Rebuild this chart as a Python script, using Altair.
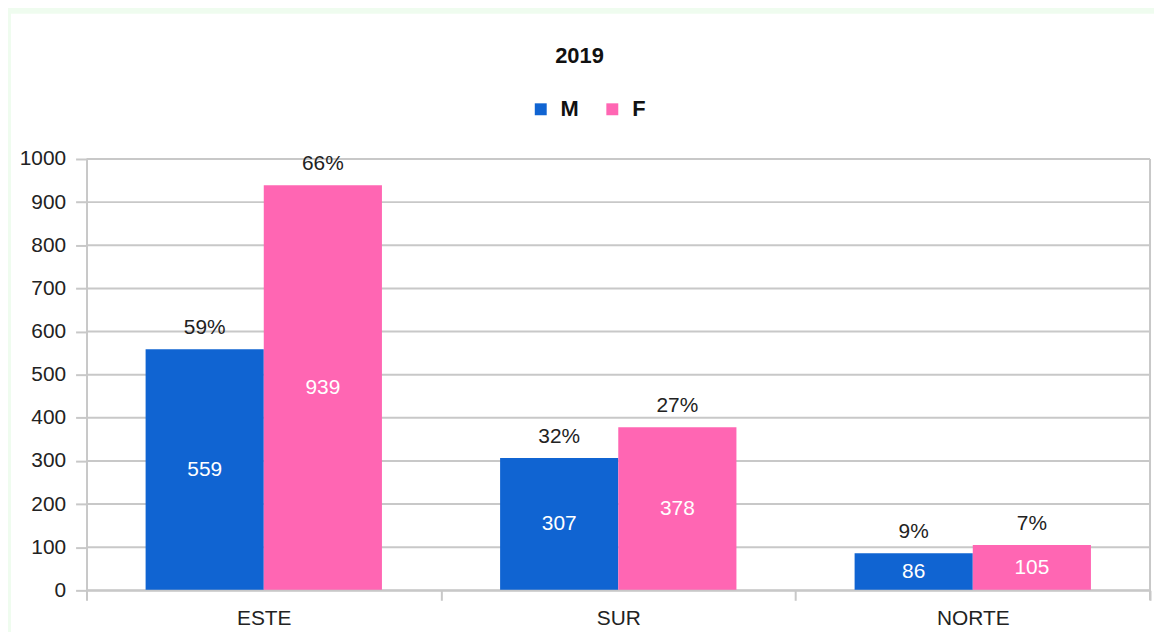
import altair as alt
import pandas as pd

regions = ["ESTE", "SUR", "NORTE"]
sexes = ["M", "F"]
m_vals = [559, 307, 86]
f_vals = [939, 378, 105]
m_pct = ["59%", "32%", "9%"]
f_pct = ["66%", "27%", "7%"]
colors = ["#1064d2", "#ff66b3"]
y_ticks = list(range(0, 1001, 100))

rows = []
for i, r in enumerate(regions):
    rows.append({"region": r, "sexo": "M", "value": m_vals[i], "pct": m_pct[i]})
    rows.append({"region": r, "sexo": "F", "value": f_vals[i], "pct": f_pct[i]})
df = pd.DataFrame(rows)
grid_df = pd.DataFrame({"tick": y_ticks})

FONT = "Liberation Sans"
W, H = 1070, 434
LINE = "#c8c8c8"

x_enc = alt.X("region:N", sort=regions,
              scale=alt.Scale(paddingInner=0, paddingOuter=0),
              axis=alt.Axis(title=None, labelAngle=0, tickBand="extent",
                            tickSize=10, labelPadding=7, labelFontSize=21,
                            labelColor="#222222", domainColor=LINE,
                            tickColor=LINE, domainWidth=2, tickWidth=2,
                            grid=False, zindex=1))
xo_enc = alt.XOffset("sexo:N", sort=sexes,
                     scale=alt.Scale(paddingInner=0, paddingOuter=0.5))
y_scale = alt.Scale(domain=[0, 1000], nice=False)
y_enc = alt.Y("value:Q", scale=y_scale,
              axis=alt.Axis(title=None, values=y_ticks, format="d", tickSize=11,
                            labelPadding=10, labelFontSize=21,
                            labelColor="#222222", domainColor=LINE,
                            tickColor=LINE, domainWidth=2, tickWidth=2,
                            grid=False, zindex=1))

bg = alt.Chart(pd.DataFrame({"a": [0]})).mark_rect(color="white").encode(
    x=alt.value(-76), x2=alt.value(W + 40), y=alt.value(-146), y2=alt.value(H + 60)
)

grid = alt.Chart(grid_df).mark_rule(color=LINE, strokeWidth=2).encode(
    y=alt.Y("tick:Q", scale=y_scale), x=alt.value(0), x2=alt.value(W)
)

right_border = alt.Chart(pd.DataFrame({"a": [0]})).mark_rule(
    color=LINE, strokeWidth=2
).encode(x=alt.value(W), y=alt.value(0), y2=alt.value(H + 10))

bars = alt.Chart(df).mark_bar().encode(
    x=x_enc, xOffset=xo_enc, y=y_enc,
    color=alt.Color("sexo:N", sort=sexes,
                    scale=alt.Scale(domain=sexes, range=colors),
                    legend=alt.Legend(title=None, orient="none", direction="horizontal",
                                      legendX=446, legendY=-61, padding=0,
                                      symbolType="square", symbolSize=144,
                                      symbolStrokeWidth=0, labelOffset=9,
                                      columnPadding=22, labelFontSize=22,
                                      labelFontWeight="bold", labelColor="#111111",
                                      labelFont=FONT))
)

inner = alt.Chart(df).transform_calculate(half="datum.value / 2").mark_text(
    color="white", fontSize=21, font=FONT, baseline="middle"
).encode(
    x=alt.X("region:N", sort=regions), xOffset=alt.XOffset("sexo:N", sort=sexes),
    y=alt.Y("half:Q"), text="value:Q"
)

pct = alt.Chart(df).mark_text(
    color="#222222", fontSize=21, font=FONT, baseline="middle", dy=-21
).encode(
    x=alt.X("region:N", sort=regions), xOffset=alt.XOffset("sexo:N", sort=sexes),
    y=alt.Y("value:Q"), text="pct:N"
)

chart = alt.layer(bg, grid, right_border, bars, inner, pct).properties(
    width=W, height=H,
    title=alt.TitleParams("2019", anchor="middle", fontSize=22, fontWeight="bold",
                          font=FONT, color="#111111", dx=-39, offset=-54),
    autosize=alt.AutoSizeParams(type="none"),
    padding={"left": 79, "top": 150, "right": 4, "bottom": 40},
).configure(background="#effcef", font=FONT).configure_view(
    stroke=None
)

chart.save("out.html", embed_options={"renderer": "svg", "actions": False})
